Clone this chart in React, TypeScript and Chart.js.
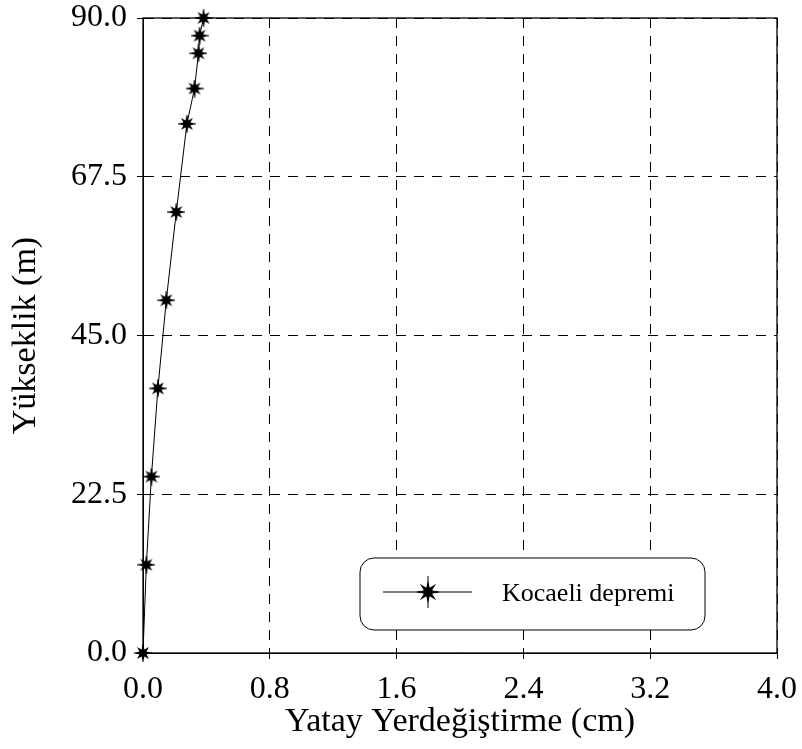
import { useEffect, useRef } from "react";
import { Chart, registerables } from "chart.js";

Chart.register(...registerables);

// ---- data ----
const heights = [0, 12.5, 25, 37.5, 50, 62.5, 75, 80, 85, 87.5, 90];
const displacements = [0, 0.021, 0.053, 0.094, 0.147, 0.21, 0.277, 0.325, 0.35, 0.357, 0.382];
const xTicks = [0, 0.8, 1.6, 2.4, 3.2, 4.0];
const yTicks = [0, 22.5, 45, 67.5, 90];
const seriesLabel = "Kocaeli depremi";
const xTitle = "Yatay Yerdeğiştirme (cm)";
const yTitle = "Yükseklik (m)";

const FONT = "'Liberation Serif', 'Times New Roman', serif";

function drawStar(ctx: CanvasRenderingContext2D, cx: number, cy: number, outer: number, inner: number, spikeH: number, spikeV: number) {
  ctx.beginPath();
  for (let i = 0; i < 16; i++) {
    const r = i % 2 === 0 ? outer : inner;
    const a = (i * Math.PI) / 8;
    const px = cx + r * Math.cos(a);
    const py = cy + r * Math.sin(a);
    if (i === 0) ctx.moveTo(px, py);
    else ctx.lineTo(px, py);
  }
  ctx.closePath();
  ctx.fillStyle = "#000";
  ctx.fill();
  ctx.strokeStyle = "#000";
  ctx.lineWidth = 1;
  ctx.beginPath();
  ctx.moveTo(cx - spikeH, cy);
  ctx.lineTo(cx + spikeH, cy);
  ctx.moveTo(cx, cy - spikeV);
  ctx.lineTo(cx, cy + spikeV);
  ctx.stroke();
}

function makeStarCanvas(size: number, outer: number, inner: number) {
  const c = document.createElement("canvas");
  c.width = size;
  c.height = size;
  const ctx = c.getContext("2d")!;
  drawStar(ctx, size / 2, size / 2, outer, inner, size / 2, size / 2);
  return c;
}

const frameAndLegend = {
  id: "frameAndLegend",
  afterDatasetsDraw(chart: any) {
    const { ctx, chartArea } = chart;
    const { left, top, right, bottom } = chartArea;
    ctx.save();
    // frame
    ctx.strokeStyle = "#000";
    ctx.lineWidth = 1.3;
    ctx.setLineDash([]);
    ctx.strokeRect(left, top, right - left, bottom - top);

    // legend box
    const bx = left + 217;
    const by = top + 540;
    const bw = 345;
    const bh = 72;
    const r = 14;
    ctx.beginPath();
    ctx.moveTo(bx + r, by);
    ctx.lineTo(bx + bw - r, by);
    ctx.arcTo(bx + bw, by, bx + bw, by + r, r);
    ctx.lineTo(bx + bw, by + bh - r);
    ctx.arcTo(bx + bw, by + bh, bx + bw - r, by + bh, r);
    ctx.lineTo(bx + r, by + bh);
    ctx.arcTo(bx, by + bh, bx, by + bh - r, r);
    ctx.lineTo(bx, by + r);
    ctx.arcTo(bx, by, bx + r, by, r);
    ctx.closePath();
    ctx.fillStyle = "#fff";
    ctx.fill();
    ctx.lineWidth = 1;
    ctx.strokeStyle = "#000";
    ctx.stroke();

    // legend sample
    const ly = by + 34;
    ctx.beginPath();
    ctx.moveTo(bx + 23, ly);
    ctx.lineTo(bx + 112, ly);
    ctx.stroke();
    drawStar(ctx, bx + 68, ly, 11.5, 4.5, 11, 16);

    ctx.fillStyle = "#000";
    ctx.font = `26px ${FONT}`;
    ctx.textBaseline = "alphabetic";
    ctx.textAlign = "left";
    ctx.fillText(seriesLabel, bx + 142, by + 43);
    ctx.restore();
  },
};

export default function App() {
  const ref = useRef<HTMLCanvasElement>(null);

  useEffect(() => {
    if (!ref.current) return;
    const star = makeStarCanvas(18, 8.5, 3.8);
    const chart = new Chart(ref.current, {
      type: "line",
      data: {
        datasets: [
          {
            label: seriesLabel,
            data: displacements.map((x, i) => ({ x, y: heights[i] })),
            borderColor: "#000",
            borderWidth: 1,
            backgroundColor: "#000",
            pointStyle: star as any,
            pointRadius: 9,
            showLine: true,
            tension: 0,
            clip: false as any,
          },
        ],
      },
      options: {
        animation: false,
        responsive: true,
        maintainAspectRatio: false,
        layout: { padding: { top: 18, right: 25, left: 0, bottom: 0 } },
        plugins: {
          legend: { display: false },
          tooltip: { enabled: false },
        },
        scales: {
          x: {
            type: "linear",
            min: 0,
            max: 4,
            afterBuildTicks: (s: any) => {
              s.ticks = xTicks.map((v) => ({ value: v }));
            },
            afterFit: (s: any) => {
              s.height = 96;
              s.paddingLeft = 0;
              s.paddingRight = 0;
            },
            ticks: {
              callback: (v: any) => Number(v).toFixed(1),
              font: { family: FONT, size: 32 },
              color: "#000",
              padding: 11,
              maxRotation: 0,
              autoSkip: false,
            },
            grid: {
              color: "#000",
              lineWidth: 1,
              drawTicks: true,
              tickLength: 6,
              tickColor: "#000",
              tickBorderDash: [],
            },
            border: { display: true, color: "#000", width: 1, dash: [10, 8] },
            title: {
              display: true,
              text: xTitle,
              font: { family: FONT, size: 34 },
              color: "#000",
              padding: { top: 0, bottom: 7 },
            },
          },
          y: {
            type: "linear",
            min: 0,
            max: 90,
            afterBuildTicks: (s: any) => {
              s.ticks = yTicks.map((v) => ({ value: v }));
            },
            afterFit: (s: any) => {
              s.width = 143;
              s.paddingTop = 0;
              s.paddingBottom = 0;
            },
            ticks: {
              callback: (v: any) => Number(v).toFixed(1),
              font: { family: FONT, size: 32 },
              color: "#000",
              padding: 10,
              autoSkip: false,
            },
            grid: {
              color: "#000",
              lineWidth: 1,
              drawTicks: true,
              tickLength: 6,
              tickColor: "#000",
              tickBorderDash: [],
            },
            border: { display: true, color: "#000", width: 1, dash: [10, 8] },
            title: {
              display: true,
              text: yTitle,
              font: { family: FONT, size: 34 },
              color: "#000",
              padding: { top: 6, bottom: 0 },
            },
          },
        },
      },
      plugins: [frameAndLegend],
    });
    return () => chart.destroy();
  }, []);

  return (
    <div style={{ position: "fixed", left: 0, top: 0, width: 802, height: 749, background: "#fff" }}>
      <canvas ref={ref} />
    </div>
  );
}
